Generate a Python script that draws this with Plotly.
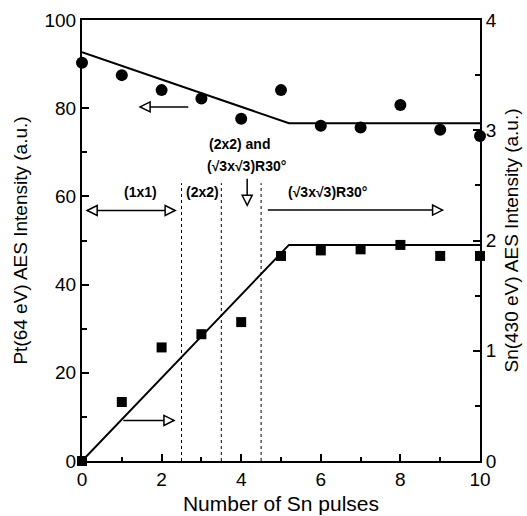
import plotly.graph_objects as go

# Data
pulses = [0, 1, 2, 3, 4, 5, 6, 7, 8, 9, 10]
pt_intensity = [90.3, 87.5, 84.1, 82.2, 77.6, 84.1, 76.0, 75.6, 80.7, 75.1, 73.7]
sn_intensity = [0.0, 0.535, 1.03, 1.15, 1.26, 1.86, 1.91, 1.92, 1.96, 1.86, 1.86]
pt_fit_x = [0, 5.2, 10]
pt_fit_y = [92.7, 76.6, 76.6]
sn_fit_x = [0, 5.2, 10]
sn_fit_y = [0.0, 1.96, 1.96]
phase_bounds = [2.5, 3.5, 4.5]

FONT = "Liberation Sans, Arial, sans-serif"

fig = go.Figure()
fig.add_trace(go.Scatter(x=pt_fit_x, y=pt_fit_y, mode="lines",
                         line=dict(color="black", width=2), showlegend=False))
fig.add_trace(go.Scatter(x=pulses, y=pt_intensity, mode="markers",
                         marker=dict(symbol="circle", size=12, color="black"),
                         cliponaxis=False, showlegend=False))
fig.add_trace(go.Scatter(x=sn_fit_x, y=sn_fit_y, mode="lines", yaxis="y2",
                         line=dict(color="black", width=2), showlegend=False))
fig.add_trace(go.Scatter(x=pulses, y=sn_intensity, mode="markers", yaxis="y2",
                         marker=dict(symbol="square", size=10, color="black"),
                         cliponaxis=False, showlegend=False))

shapes = []
for b in phase_bounds:
    shapes.append(dict(type="line", xref="x", yref="y", x0=b, x1=b, y0=0, y1=63,
                       line=dict(color="black", width=1, dash="dot")))

def shaft(x0, y0, x1, y1):
    shapes.append(dict(type="line", xref="x", yref="y", x0=x0, x1=x1, y0=y0, y1=y1,
                       line=dict(color="black", width=1.5)))

def head(x, y, direction):
    L, H = 10, 5
    if direction == "right":
        p = f"M0,0 L{-L},{H} L{-L},{-H} Z"
    elif direction == "left":
        p = f"M0,0 L{L},{H} L{L},{-H} Z"
    else:  # down (pixel y positive up)
        p = f"M0,0 L{-H},{L} L{H},{L} Z"
    shapes.append(dict(type="path", xref="x", yref="y", xsizemode="pixel", ysizemode="pixel",
                       xanchor=x, yanchor=y, path=p, fillcolor="white",
                       line=dict(color="black", width=1.5)))

# (1x1) double arrow
shaft(0.13, 56.8, 2.34, 56.8)
head(0.13, 56.8, "left")
head(2.34, 56.8, "right")
# down arrow
shaft(4.15, 64.0, 4.15, 58.0)
head(4.15, 58.0, "down")
# sqrt3 right arrow
shaft(4.67, 56.9, 9.06, 56.9)
head(9.06, 56.9, "right")
# Pt arrow (left axis)
shaft(2.67, 80.3, 1.46, 80.3)
head(1.46, 80.3, "left")
# Sn arrow (right axis)
shaft(1.04, 9.2, 2.31, 9.2)
head(2.31, 9.2, "right")

ann_font = dict(family=FONT, size=14, color="black")
annotations = [
    dict(x=1.46, y=61.0, text="<b>(1x1)</b>"),
    dict(x=3.03, y=61.0, text="<b>(2x2)</b>"),
    dict(x=3.95, y=71.8, text="<b>(2x2) and</b>"),
    dict(x=4.13, y=66.8, text="<b>(√3x√3)R30°</b>"),
    dict(x=6.16, y=61.0, text="<b>(√3x√3)R30°</b>"),
]
for a in annotations:
    a.update(xref="x", yref="y", showarrow=False, font=ann_font)

axis_common = dict(showline=True, linecolor="black", linewidth=2, showgrid=False,
                   zeroline=False, ticks="inside", tickcolor="black", tickwidth=2,
                   ticklen=7, automargin=False,
                   tickfont=dict(family=FONT, size=19, color="black"))

fig.update_layout(
    width=527, height=516,
    margin=dict(l=82, r=47, t=20, b=55),
    paper_bgcolor="white", plot_bgcolor="white",
    xaxis=dict(range=[0, 10], dtick=2, mirror=True,
               minor=dict(dtick=1, ticks="inside", ticklen=4, tickwidth=2, tickcolor="black"),
               title=dict(text="Number of Sn pulses", font=dict(family=FONT, size=21, color="black"),
                          standoff=8),
               **axis_common),
    yaxis=dict(range=[0, 100], dtick=20,
               minor=dict(dtick=10, ticks="inside", ticklen=5, tickwidth=2, tickcolor="black"),
               title=dict(text="Pt(64 eV) AES Intensity (a.u.)",
                          font=dict(family=FONT, size=19, color="black"), standoff=12),
               **axis_common),
    yaxis2=dict(range=[0, 4], dtick=1, overlaying="y", side="right",
                minor=dict(dtick=0.5, ticks="inside", ticklen=5, tickwidth=2, tickcolor="black"),
                title=dict(text="Sn(430 eV) AES Intensity (a.u.)",
                           font=dict(family=FONT, size=19, color="black"), standoff=9),
                **axis_common),
    shapes=shapes,
    annotations=annotations,
)

fig.write_html("out.html")
